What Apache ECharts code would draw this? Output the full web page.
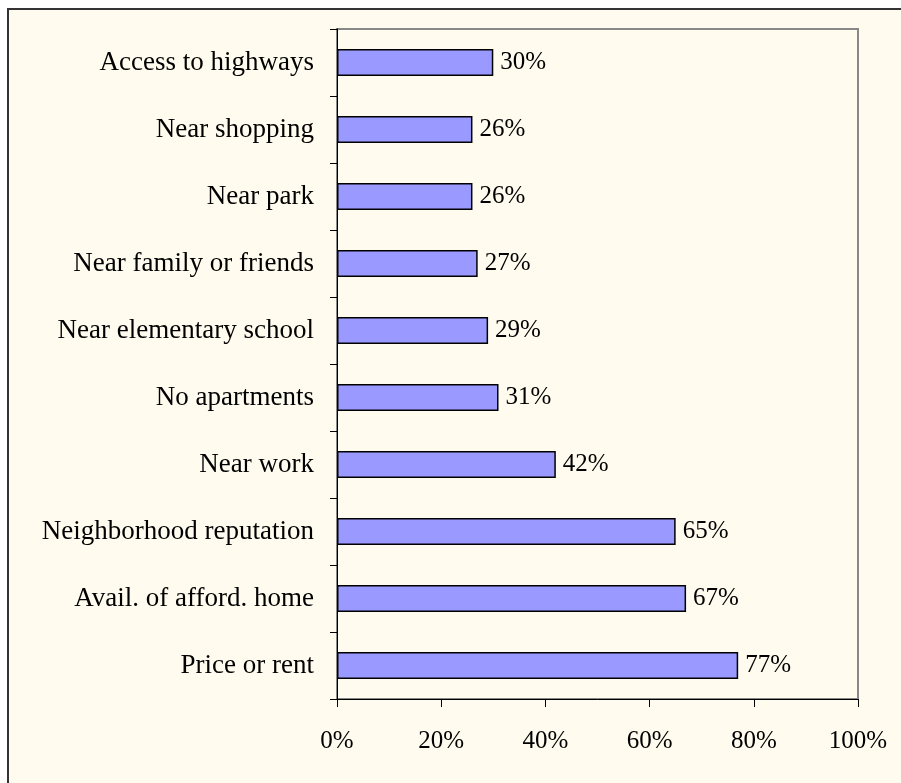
<!DOCTYPE html>
<html>
<head>
<meta charset="utf-8">
<script src="https://cdn.jsdelivr.net/npm/echarts@6/dist/echarts.min.js"></script>
<style>html,body{margin:0;padding:0;background:#fff;}#c{width:901px;height:783px;}</style>
</head>
<body>
<div id="c"></div>
<script>
const categories = ["Access to highways","Near shopping","Near park","Near family or friends","Near elementary school","No apartments","Near work","Neighborhood reputation","Avail. of afford. home","Price or rent"];
const values = [30,26,26,27,29,31,42,65,67,77];
const xTicks = [0,20,40,60,80,100];

const font = "'Liberation Serif','Times New Roman',serif";
const chart = echarts.init(document.getElementById('c'), null, {renderer:'canvas'});
chart.setOption({
  backgroundColor:'#ffffff',
  animation:false,
  graphic:[{type:'rect', z:-10, silent:true, shape:{x:8,y:9,width:905,height:790}, style:{fill:'#fffcef', stroke:'#333', lineWidth:2}}],
  grid:{left:337,right:43,top:29,bottom:84,show:true,borderColor:'#888',borderWidth:2,backgroundColor:'transparent'},
  xAxis:{type:'value',min:xTicks[0],max:xTicks[xTicks.length-1],interval:20,
    axisLine:{show:true,lineStyle:{color:'#000',width:1}},
    axisTick:{show:true,length:8,lineStyle:{color:'#000'}},
    splitLine:{show:false},
    axisLabel:{formatter:'{value}%',margin:30,color:'#000',fontFamily:font,fontSize:25}},
  yAxis:{type:'category',data:categories,inverse:true,
    axisLine:{show:true,lineStyle:{color:'#000',width:1}},
    axisTick:{show:true,length:7,lineStyle:{color:'#000'}},
    axisLabel:{margin:23,color:'#000',fontFamily:font,fontSize:27}},
  series:[{type:'bar',data:values,barWidth:27,
    itemStyle:{color:'#9999ff',borderColor:'#000',borderWidth:1.5},
    label:{show:true,position:'right',distance:7,formatter:'{c}%',color:'#000',fontFamily:font,fontSize:25}}]
});
</script>
</body>
</html>
